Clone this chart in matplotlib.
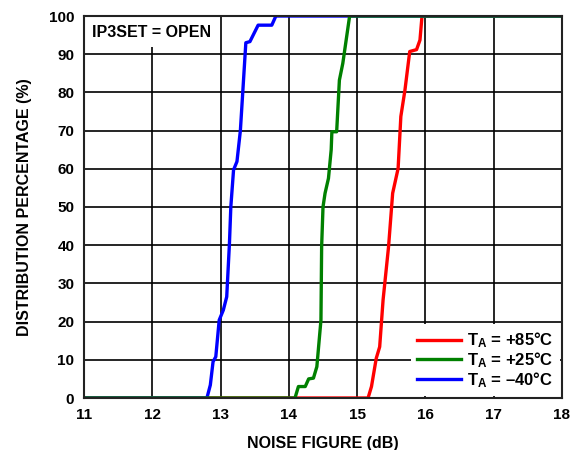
import matplotlib
matplotlib.use("Agg")
import matplotlib.pyplot as plt
from matplotlib.patches import Rectangle

plt.rcParams['font.family'] = ['Liberation Sans', 'DejaVu Sans']
plt.rcParams['font.weight'] = 'bold'
plt.rcParams['mathtext.fontset'] = 'custom'
plt.rcParams['mathtext.rm'] = 'Liberation Sans:bold'
plt.rcParams['mathtext.it'] = 'Liberation Sans:bold'
plt.rcParams['mathtext.bf'] = 'Liberation Sans:bold'

# Data (noise figure dB, cumulative distribution %)
nf_85 = [11.0, 15.16, 15.21, 15.28, 15.33, 15.38, 15.46, 15.52, 15.60, 15.64, 15.70, 15.77, 15.87, 15.92, 15.95, 18.0]
pct_85 = [0, 0, 3, 10.4, 13.4, 25.7, 39.6, 53.6, 60.1, 73.7, 80.6, 90.7, 91.2, 93.7, 100, 100]

nf_25 = [11.0, 14.09, 14.14, 14.24, 14.29, 14.36, 14.41, 14.47, 14.48, 14.50, 14.53, 14.58, 14.62, 14.63, 14.70, 14.74, 14.79, 14.89, 18.0]
pct_25 = [0, 0, 3, 3, 5, 5.2, 8.2, 20.4, 39.6, 50, 53.6, 57.5, 65, 69.7, 69.7, 83.2, 87.6, 100, 100]

nf_m40 = [11.0, 12.80, 12.85, 12.89, 12.93, 12.98, 13.04, 13.09, 13.13, 13.15, 13.19, 13.24, 13.29, 13.37, 13.43, 13.55, 13.75, 13.81, 18.0]
pct_m40 = [0, 0, 3.4, 9.5, 10.8, 20.4, 23, 26.5, 40.5, 50, 59.7, 61.9, 70, 93, 93.3, 97.6, 97.6, 100, 100]

labels = [r'$\mathregular{T_A}$ = +85°C', r'$\mathregular{T_A}$ = +25°C', r'$\mathregular{T_A}$ = –40°C']
colors = ['#ff0000', '#008000', '#0000ff']

xticks = [11, 12, 13, 14, 15, 16, 17, 18]
yticks = [0, 10, 20, 30, 40, 50, 60, 70, 80, 90, 100]

fig = plt.figure(figsize=(5.77, 4.5), dpi=100)
ax = fig.add_axes([84/577, 52/450, (562-84)/577, (398-16)/450])

lw = 2.4
l1, = ax.plot(nf_85, pct_85, color=colors[0], lw=lw, label=labels[0], zorder=3, solid_joinstyle='round')
l3, = ax.plot(nf_m40, pct_m40, color=colors[2], lw=lw, label=labels[2], zorder=3, solid_joinstyle='round')
l2, = ax.plot(nf_25, pct_25, color=colors[1], lw=lw, label=labels[1], zorder=3, solid_joinstyle='round')

ax.set_xlim(11, 18)
ax.set_ylim(0, 100)
ax.set_xticks(xticks)
ax.set_yticks(yticks)
ax.grid(True, color='black', lw=1.2, zorder=1)
ax.set_axisbelow(True)
ax.tick_params(length=0, labelsize=11, pad=7)
for lab in ax.get_xticklabels() + ax.get_yticklabels():
    lab.set_fontweight('bold')
for s in ax.spines.values():
    s.set_linewidth(1.5)
    s.set_color('#222222')
    s.set_zorder(5)

ax.set_xlabel('NOISE FIGURE (dB)', fontsize=11.5, fontweight='bold', labelpad=10)
ax.set_ylabel('DISTRIBUTION PERCENTAGE (%)', fontsize=11.5, fontweight='bold', labelpad=12)

# white box behind annotation
ax.add_patch(Rectangle((11.0, 91.8), 1.96, 8.2, facecolor='white', edgecolor='none', zorder=2))
ax.text(11.12, 95.8, 'IP3SET = OPEN', fontsize=11.5, fontweight='bold', va='center', ha='left', zorder=4)

leg = ax.legend(handles=[l1, l2, l3], loc='lower right', bbox_to_anchor=(1.0, 0.0),
                fontsize=12, frameon=True, fancybox=False, borderaxespad=0.1,
                handlelength=2.6, handletextpad=0.4, labelspacing=0.0,
                borderpad=0.4)
leg.get_frame().set_edgecolor('none')
leg.get_frame().set_facecolor('white')
leg.get_frame().set_alpha(1)
leg.set_zorder(4)
for t in leg.get_texts():
    t.set_fontweight('bold')

fig.savefig('out.png', dpi=100)
